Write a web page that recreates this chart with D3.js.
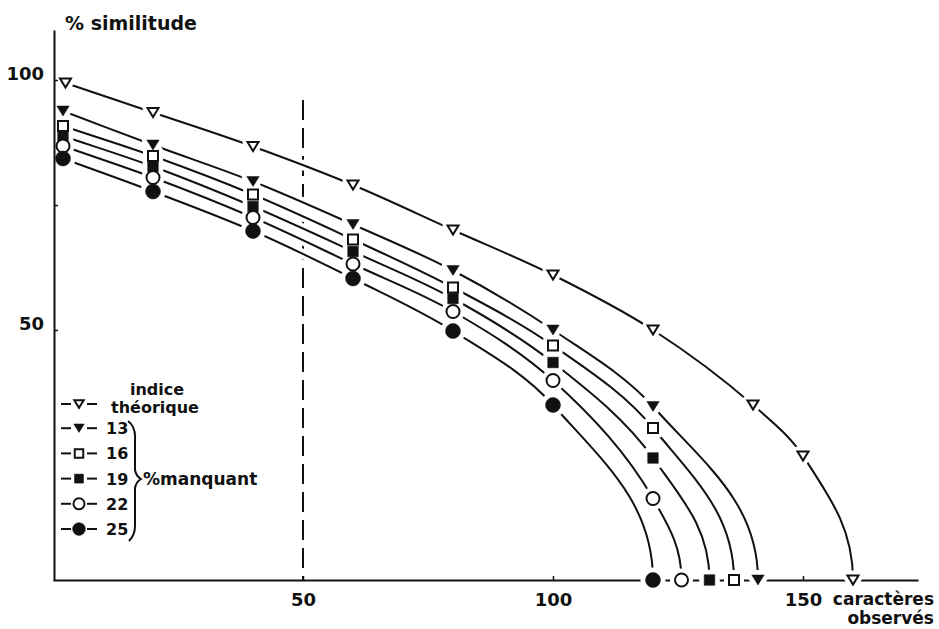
<!DOCTYPE html>
<html><head><meta charset="utf-8">
<script src="https://cdn.jsdelivr.net/npm/d3@7"></script>
<style>
body{margin:0;background:#fff}
text{font-family:"DejaVu Sans",sans-serif;font-weight:bold;fill:#111}
</style>
</head><body>
<svg id="c" width="939" height="629"></svg>
<script>
// ---------- data ----------
const xTheo = [2.5, 20, 40, 60, 80, 100, 120, 140, 150, 160];
const yTheo = [99.4, 93.5, 86.7, 79, 70, 61, 50, 35, 24.8, 0];

const x13 = [2, 20, 40, 60, 80, 100, 120, 141];
const y13 = [93.8, 87, 79.7, 71.1, 61.9, 50, 34.7, 0];
const x16 = [2, 20, 40, 60, 80, 100, 120, 136.2];
const y16 = [90.8, 84.8, 77.1, 68.1, 58.5, 46.9, 30.4, 0];
const x19 = [2, 20, 40, 60, 80, 100, 120, 131.3];
const y19 = [88.8, 82.7, 74.7, 65.7, 56.3, 43.5, 24.4, 0];
const x22 = [2, 20, 40, 60, 80, 100, 120, 125.7];
const y22 = [86.8, 80.5, 72.5, 63.2, 53.7, 39.9, 16.3, 0];
const x25 = [2, 20, 40, 60, 80, 100, 120];
const y25 = [84.3, 77.7, 69.8, 60.3, 49.8, 35, 0];

const seriesNames = ["théorique", "13", "16", "19", "22", "25"];
const seriesShapes = ["triOpen", "triFill", "sqOpen", "sqFill", "cirOpen", "cirFill"];

const xTickValues = [50, 100, 150];
const xTickLabels = ["50", "100", "150"];
const yTickValues = [50, 75, 100];
const yTickLabels = ["50", "", "100"];
const refLineX = 50;

const yTitle = "% similitude";
const xTitle1 = "caractères";
const xTitle2 = "observés";
const legendHead1 = "indice";
const legendHead2 = "théorique";
const legendGroupLabel = "%manquant";

// ---------- build ----------
const series = [
  {xs: xTheo, ys: yTheo}, {xs: x13, ys: y13}, {xs: x16, ys: y16},
  {xs: x19, ys: y19}, {xs: x22, ys: y22}, {xs: x25, ys: y25}
].map((s, i) => ({
  name: seriesNames[i], shape: seriesShapes[i],
  pts: s.xs.map((v, j) => ({x: v, y: s.ys[j]}))
}));

const svg = d3.select("#c");
svg.append("rect").attr("width", 939).attr("height", 629).attr("fill", "#fff");

const x = d3.scaleLinear().domain([0, 173]).range([53, 918]);
const y = d3.scaleLinear().domain([0, 110]).range([580, 30]);

const ink = "#111";

// smooth geometric curve: unit-chord bisector tangents, vertical arrival on the axis
function SmoothDrop(context) { this._context = context; }
SmoothDrop.prototype = {
  areaStart() {}, areaEnd() {},
  lineStart() { this._p = []; },
  point(px, py) { this._p.push([+px, +py]); },
  lineEnd() {
    const p = this._p, c = this._context, n = p.length;
    if (!n) return;
    const unit = (a, b) => { const dx = b[0] - a[0], dy = b[1] - a[1], l = Math.hypot(dx, dy) || 1; return [dx / l, dy / l]; };
    const T = p.map((q, i) => {
      if (i === 0) return unit(p[0], p[1]);
      if (i === n - 1) return [0, 1];
      const a = unit(p[i - 1], q), b = unit(q, p[i + 1]);
      return unit([0, 0], [a[0] + b[0], a[1] + b[1]]);
    });
    c.moveTo(p[0][0], p[0][1]);
    for (let i = 0; i < n - 1; i++) {
      const L = Math.hypot(p[i + 1][0] - p[i][0], p[i + 1][1] - p[i][1]);
      const h = L * (i === n - 2 ? 0.38 : 0.34);
      c.bezierCurveTo(p[i][0] + T[i][0] * h, p[i][1] + T[i][1] * h,
        p[i + 1][0] - T[i + 1][0] * h, p[i + 1][1] - T[i + 1][1] * h,
        p[i + 1][0], p[i + 1][1]);
    }
  }
};
const curveSmoothDrop = ctx => new SmoothDrop(ctx);

// dashed reference line
svg.append("line")
  .attr("x1", x(refLineX)).attr("x2", x(refLineX))
  .attr("y1", y(96)).attr("y2", y(0))
  .attr("stroke", ink).attr("stroke-width", 2)
  .attr("stroke-dasharray", "20,8");

// x axis (below markers so zero markers break it)
const gx = svg.append("g").attr("transform", `translate(0,${y(0)})`)
  .call(d3.axisBottom(x).tickValues(xTickValues).tickSizeInner(-4).tickSizeOuter(0)
    .tickFormat((d, i) => xTickLabels[i]));
gx.select(".domain").attr("stroke", ink).attr("stroke-width", 2);
gx.selectAll(".tick line").attr("stroke", ink).attr("stroke-width", 1.5);
gx.selectAll(".tick text").attr("y", 26).attr("dy", 0).attr("font-size", 18).attr("fill", ink);

// axis titles
svg.append("text").attr("x", 65).attr("y", 30).attr("font-size", 19).text(yTitle);
svg.append("text").attr("x", 934).attr("y", 605).attr("font-size", 17)
  .attr("text-anchor", "end").text(xTitle1);
svg.append("text").attr("x", 934).attr("y", 624).attr("font-size", 17)
  .attr("text-anchor", "end").text(xTitle2);

// curves
const line = d3.line().x(d => x(d.x)).y(d => y(d.y)).curve(curveSmoothDrop);
const gl = svg.append("g");
gl.selectAll("path.halo").data(series).join("path").attr("class", "halo")
  .attr("d", d => line(d.pts)).attr("fill", "none").attr("stroke", "#fff").attr("stroke-width", 10);
gl.selectAll("path.crv").data(series).join("path").attr("class", "crv")
  .attr("d", d => line(d.pts)).attr("fill", "none").attr("stroke", ink).attr("stroke-width", 2);

// marker shapes
function shapePath(shape, k) {
  k = k || 1;
  if (shape.startsWith("tri")) {
    const w = (shape === "triOpen" ? 5.5 : 6.2) * k, h = (shape === "triOpen" ? 9 : 10) * k;
    return `M${-w},${-h / 2}L${w},${-h / 2}L0,${h / 2}Z`;
  }
  if (shape.startsWith("sq")) {
    const s = (shape === "sqOpen" ? 5 : 5.3) * k;
    return `M${-s},${-s}H${s}V${s}H${-s}Z`;
  }
  const r = (shape === "cirOpen" ? 6.5 : 7.5) * k;
  return `M${r},0A${r},${r} 0 1,1 ${-r},0A${r},${r} 0 1,1 ${r},0Z`;
}
function styleMarker(sel, shape) {
  const open = shape.endsWith("Open");
  sel.attr("fill", open ? "#fff" : ink).attr("stroke", ink).attr("stroke-width", open ? 2 : 0.5);
}

const allPts = series.flatMap(s => s.pts.map(p => ({...p, shape: s.shape})));
const gm = svg.append("g");
gm.selectAll("path.mh").data(allPts).join("path").attr("class", "mh")
  .attr("transform", d => `translate(${x(d.x)},${y(d.y)})`)
  .attr("d", d => shapePath(d.shape)).attr("fill", "#fff").attr("stroke", "#fff").attr("stroke-width", 10)
  .attr("stroke-linejoin", "round");

// y axis above halos
const gy = svg.append("g").attr("transform", `translate(54,0)`)
  .call(d3.axisLeft(y).tickValues(yTickValues).tickSizeInner(-4).tickSizeOuter(0)
    .tickFormat((d, i) => yTickLabels[i]));
gy.select(".domain").attr("stroke", ink).attr("stroke-width", 2);
gy.selectAll(".tick line").attr("stroke", ink).attr("stroke-width", 1.5);
gy.selectAll(".tick text").attr("x", -10).attr("dy", 0).attr("y", -1)
  .attr("font-size", 18).attr("fill", ink).attr("text-anchor", "end");

const gm2 = svg.append("g");
gm2.selectAll("path.mk").data(allPts).join("path").attr("class", "mk")
  .attr("transform", d => `translate(${x(d.x)},${y(d.y)})`)
  .attr("d", d => shapePath(d.shape))
  .each(function (d) { styleMarker(d3.select(this), d.shape); });

// legend
const legRows = [404, 428.2, 453.4, 478.6, 503.8, 529];
const lg = svg.append("g");
series.forEach((s, i) => {
  const cy = legRows[i];
  lg.append("line").attr("x1", 61).attr("x2", 71).attr("y1", cy).attr("y2", cy)
    .attr("stroke", ink).attr("stroke-width", 2);
  lg.append("line").attr("x1", 87).attr("x2", 97).attr("y1", cy).attr("y2", cy)
    .attr("stroke", ink).attr("stroke-width", 2);
  const m = lg.append("path").attr("transform", `translate(79,${cy})`)
    .attr("d", shapePath(s.shape, 0.85));
  styleMarker(m, s.shape);
  if (i > 0) {
    lg.append("text").attr("x", 106).attr("y", cy + 6).attr("font-size", 16).text(s.name);
  }
});
lg.append("text").attr("x", 157).attr("y", 395).attr("font-size", 16)
  .attr("text-anchor", "middle").text(legendHead1);
lg.append("text").attr("x", 155).attr("y", 413).attr("font-size", 16)
  .attr("text-anchor", "middle").text(legendHead2);
lg.append("path")
  .attr("d", "M128,421 Q136,427 135,440 L135,470 Q136,476 141,479 Q136,482 135,488 L135,526 Q135,535 129,541")
  .attr("fill", "none").attr("stroke", ink).attr("stroke-width", 2);
lg.append("text").attr("x", 143).attr("y", 485).attr("font-size", 17).text(legendGroupLabel);
</script>
</body></html>
